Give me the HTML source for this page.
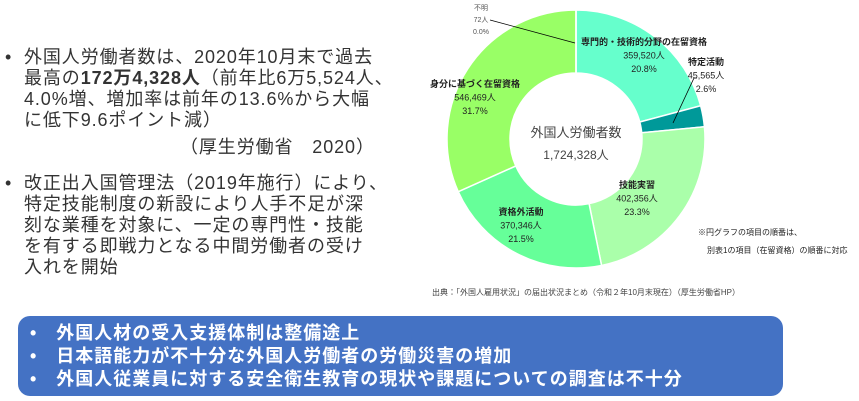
<!DOCTYPE html>
<html><head><meta charset="utf-8">
<style>
body{margin:0;width:859px;height:401px;background:#fff;position:relative;overflow:hidden;font-family:"Liberation Sans","Noto Sans CJK JP",sans-serif;}
.l{position:absolute;left:24px;font-size:18px;line-height:21px;color:#333;white-space:nowrap;letter-spacing:0.9px;}
.b{position:absolute;left:5px;font-size:18px;line-height:21px;color:#333;}
#box{position:absolute;left:18px;top:316px;width:765px;height:80px;background:#4472C4;border-radius:12px;color:#fff;font-weight:bold;font-size:18px;letter-spacing:1px;}
#box div{position:absolute;white-space:nowrap;}
svg text{font-family:"Liberation Sans","Noto Sans CJK JP",sans-serif;}
</style></head><body>
<div class="b" style="top:47px">•</div>
<div class="l" style="top:47px">外国人労働者数は、2020年10月末で過去</div>
<div class="l" style="top:68px">最高の<b>172万4,328人</b>（前年比6万5,524人、</div>
<div class="l" style="top:89px">4.0%増、増加率は前年の13.6%から大幅</div>
<div class="l" style="top:110px">に低下9.6ポイント減）</div>
<div class="l" style="top:137px;left:180px">（厚生労働省　2020）</div>
<div class="b" style="top:173px">•</div>
<div class="l" style="top:173px">改正出入国管理法（2019年施行）により、</div>
<div class="l" style="top:194px">特定技能制度の新設により人手不足が深</div>
<div class="l" style="top:215px">刻な業種を対象に、一定の専門性・技能</div>
<div class="l" style="top:236px">を有する即戦力となる中間労働者の受け</div>
<div class="l" style="top:257px">入れを開始</div>

<svg id="chart" width="859" height="310" style="position:absolute;left:0;top:0">
<g id="slices"></g>
<text x="576" y="137" font-size="13" fill="#444" text-anchor="middle">外国人労働者数</text>
<text x="576" y="159" font-size="12" fill="#444" text-anchor="middle">1,724,328人</text>
<line x1="490" y1="20" x2="575" y2="43" stroke="#000" stroke-width="0.8"/>
<line x1="673" y1="123" x2="694" y2="78" stroke="#000" stroke-width="0.8"/>
<line x1="694" y1="78" x2="697" y2="78" stroke="#000" stroke-width="0.8"/>
<g id="labels" font-size="9" fill="#222" text-anchor="middle"></g>
<text x="698" y="235" font-size="8" fill="#222">※円グラフの項目の順番は、</text>
<text x="707" y="253" font-size="8" fill="#222">別表1の項目（在留資格）の順番に対応</text>
<text x="432" y="295" font-size="8" fill="#444">出典：「外国人雇用状況」の届出状況まとめ（令和２年10月末現在）（厚生労働省HP）</text>
</svg>

<div id="box">
<div style="left:12px;top:3px">•　外国人材の受入支援体制は整備途上</div>
<div style="left:12px;top:26px">•　日本語能力が不十分な外国人労働者の労働災害の増加</div>
<div style="left:12px;top:49px">•　外国人従業員に対する安全衛生教育の現状や課題についての調査は不十分</div>
</div>

<script>
const categories=["専門的・技術的分野の在留資格","特定活動","技能実習","資格外活動","身分に基づく在留資格","不明"];
const values=[359520,45565,402356,370346,546469,72];
const percents=["20.8%","2.6%","23.3%","21.5%","31.7%","0.0%"];
const colors=["#66FFCC","#009999","#AAFFAA","#66FF99","#99FF66","#cccccc"];
const cx=576,cy=139,R=129,r=66;
const total=values.reduce((a,b)=>a+b,0);
const ns="http://www.w3.org/2000/svg";
function pt(a,rad){return [cx+rad*Math.sin(a),cy-rad*Math.cos(a)];}
let acc=0;
const g=document.getElementById('slices');
values.forEach((v,i)=>{
  const a0=acc/total*2*Math.PI;acc+=v;const a1=acc/total*2*Math.PI;
  const lg=(a1-a0)>Math.PI?1:0;
  const p0=pt(a0,R),p1=pt(a1,R),q1=pt(a1,r),q0=pt(a0,r);
  const p=document.createElementNS(ns,'path');
  p.setAttribute('d',`M${p0[0]},${p0[1]}A${R},${R} 0 ${lg} 1 ${p1[0]},${p1[1]}L${q1[0]},${q1[1]}A${r},${r} 0 ${lg} 0 ${q0[0]},${q0[1]}Z`);
  p.setAttribute('fill',colors[i]);p.setAttribute('stroke','#fff');p.setAttribute('stroke-width','1.5');
  
  
  g.appendChild(p);
});
const labelPos=[[644,45],[706,65],[637,188],[521,215],[475,87],[481,10]];
const lg2=document.getElementById('labels');
categories.forEach((c,i)=>{
  const [x,y]=labelPos[i];
  const lines=[i==5?'不明':c, values[i].toLocaleString('en-US')+'人', percents[i]];
  lines.forEach((t,j)=>{
    const tx=document.createElementNS(ns,'text');
    tx.setAttribute('x',x);tx.setAttribute('y',y+j*13.5);
    if(j==0&&i!=5)tx.setAttribute('font-weight','bold');
    if(i==5){tx.setAttribute('font-size','7');tx.setAttribute('fill','#555');tx.setAttribute('y',y+j*12);}
    tx.textContent=t;
    
    
    lg2.appendChild(tx);
  });
});
</script>
</body></html>
